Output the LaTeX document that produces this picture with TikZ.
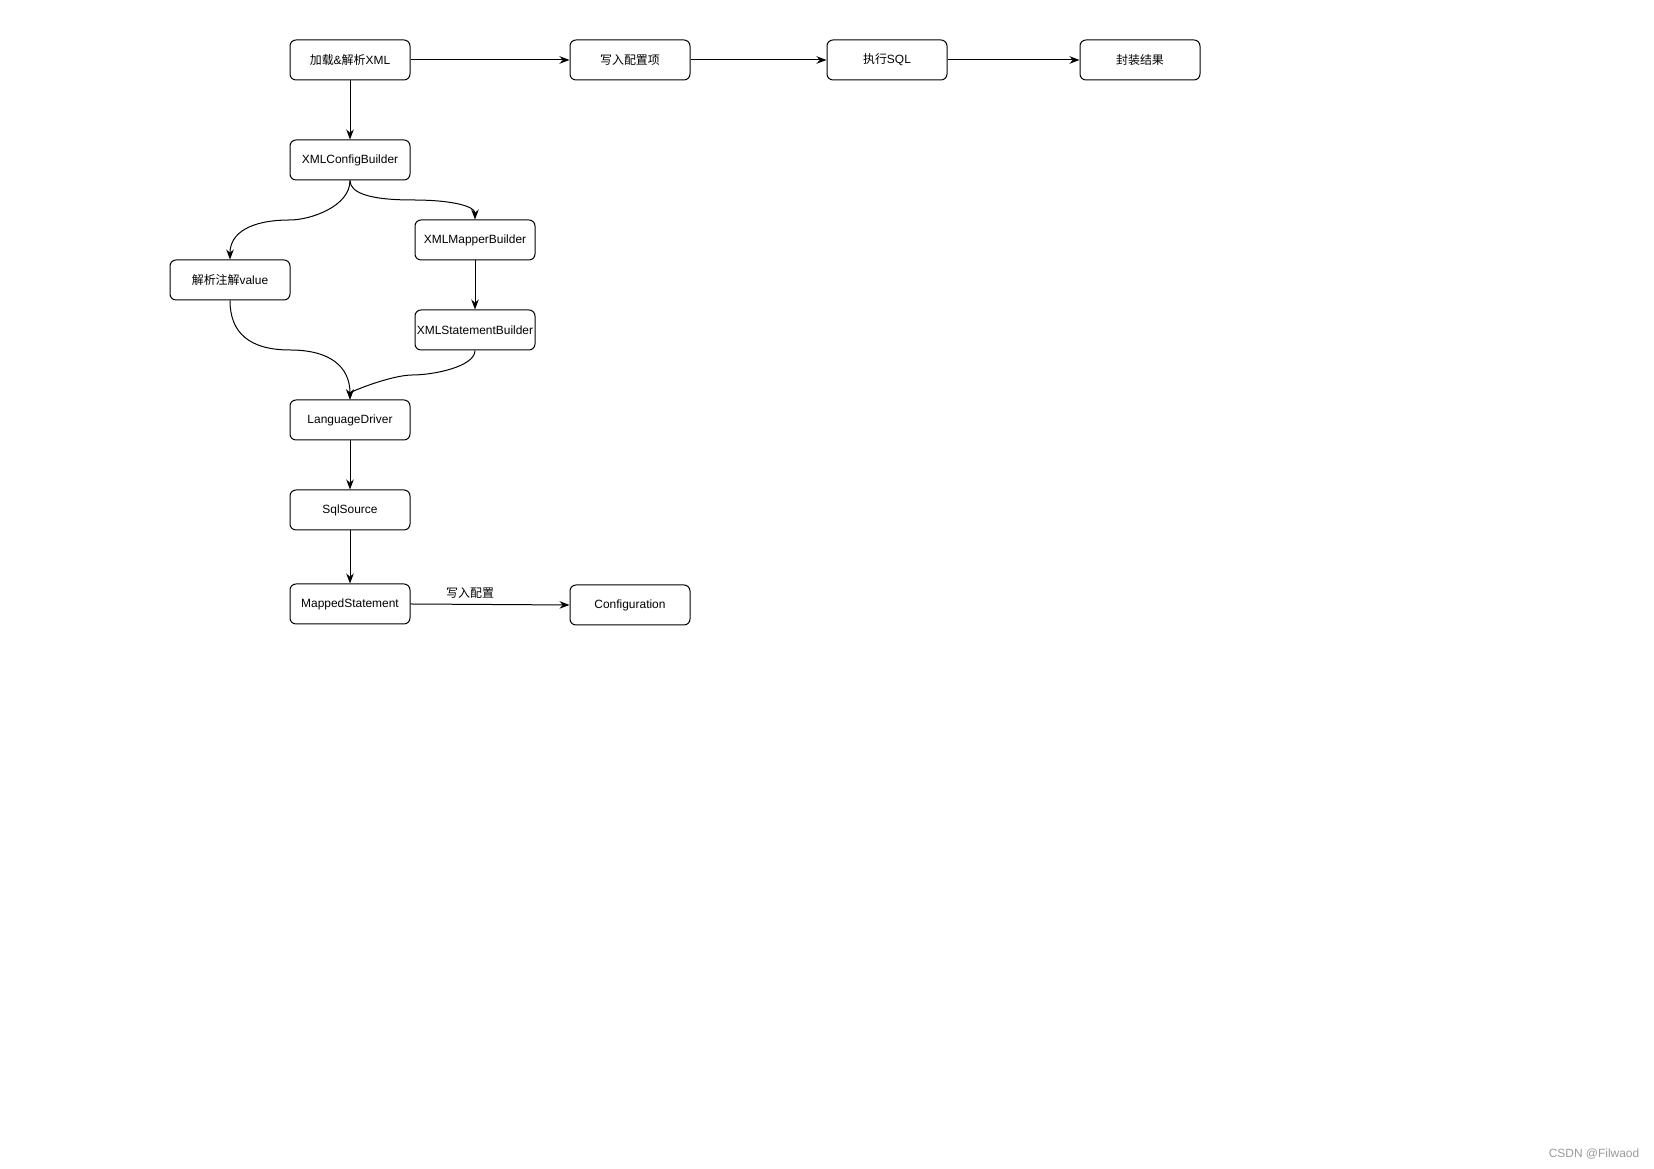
\documentclass[tikz,border=0pt]{standalone}
\usepackage{fontspec}
\setmainfont{Liberation Sans}
\newfontfamily\cjk{Noto Sans CJK SC}
\usetikzlibrary{arrows.meta}

\begin{document}
\begin{tikzpicture}[x=0.1mm, y=-0.1mm, >={Stealth[length=1mm, width=0.75mm]},
  every node/.style={font=\fontsize{3.4pt}{4pt}\selectfont},
  box/.style={draw, line width=0.1mm, rounded corners=0.6mm, minimum width=12mm, minimum height=4mm, inner sep=0pt},
  link/.style={->, line width=0.1mm}]
  \useasboundingbox (0,0) rectangle (1654,1169);
  % Hovedflyt
  \node[box] (load) at (350,60) {{\cjk 加载}\&{\cjk 解析}XML};
  \node[box] (write) at (630,60) {\cjk 写入配置项};
  \node[box] (exec) at (887,60) {{\cjk 执行}SQL};
  \node[box] (wrap) at (1140,60) {\cjk 封装结果};
  \draw[link] (load) -- (write);
  \draw[link] (write) -- (exec);
  \draw[link] (exec) -- (wrap);
  % Parsing
  \node[box] (cfg) at (350,160) {XMLConfigBuilder};
  \node[box] (anno) at (230,280) {{\cjk 解析注解}value};
  \node[box] (mapper) at (475,240) {XMLMapperBuilder};
  \node[box] (stmt) at (475,330) {XMLStatementBuilder};
  \node[box] (lang) at (350,420) {LanguageDriver};
  \node[box] (src) at (350,510) {SqlSource};
  \node[box] (ms) at (350,604) {MappedStatement};
  \node[box] (conf) at (630,605) {Configuration};
  \draw[link] (load) -- (cfg);
  \draw[link] (cfg.south) .. controls (350,206.7) and (310,220) .. (290,220)
    .. controls (250,220) and (230,233.3) .. (anno.north);
  \draw[link] (cfg.south) .. controls (350,193.3) and (370.8,200) .. (412.5,200)
    .. controls (454.2,200) and (475,206.7) .. (mapper.north);
  \draw[link] (mapper) -- (stmt);
  \draw[link] (anno.south) .. controls (230,333.3) and (250,350) .. (290,350)
    .. controls (330,350) and (350,366.7) .. (lang.north);
  \draw[link] (stmt.south) .. controls (475,366.7) and (433.3,375) .. (412.5,375)
    .. controls (391.7,375) and (350,391.7) .. (lang.north);
  \draw[link] (lang) -- (src);
  \draw[link] (src) -- (ms);
  \draw[link] (ms.east) -- node[pos=0.375, above, inner sep=0.5mm] (lbl) {\cjk 写入配置} (conf.west);
  % vannmerke
  \node[text=black!40, anchor=east, inner sep=0pt, font=\fontsize{3.4pt}{4pt}\selectfont] (mark) at (1640,1154) {CSDN @Filwaod};
\end{tikzpicture}
\end{document}
